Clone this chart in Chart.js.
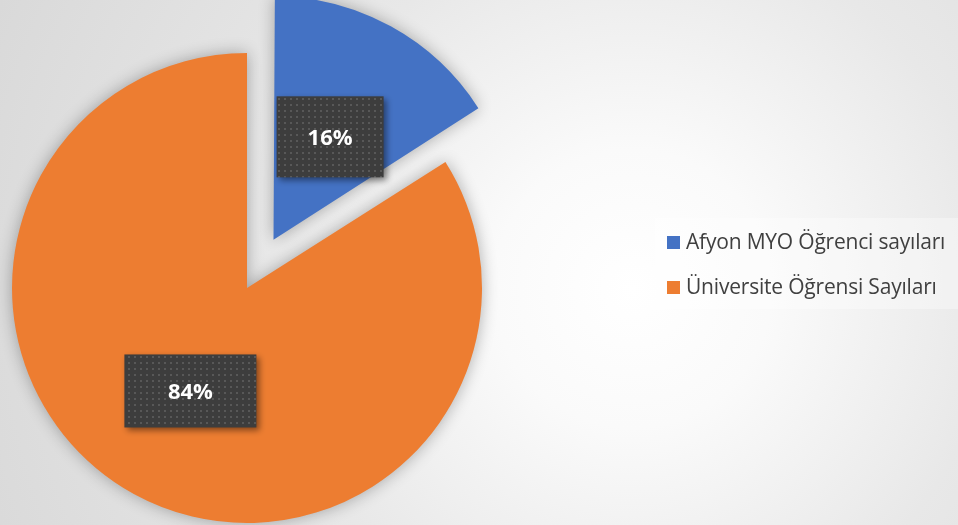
<!DOCTYPE html>
<html>
<head>
<meta charset="utf-8">
<script src="https://cdn.jsdelivr.net/npm/chart.js@4/dist/chart.umd.min.js"></script>
<style>
  html, body { margin: 0; padding: 0; }
  body {
    width: 958px; height: 525px; overflow: hidden; position: relative;
    background: radial-gradient(circle at 66% 55%, #ffffff 0%, #fafafa 20%, #e8e8e8 52%, #d9d9d9 100%);
  }
  #wrap { position: absolute; left: 0; top: 0; width: 958px; height: 525px; }
  #legend {
    position: absolute; left: 655px; top: 218px; width: 303px; height: 91px;
    background: rgba(255,255,255,0.35);
    font-family: "Open Sans", "Noto Sans", sans-serif; font-size: 21px; color: #404040;
  }
  .item { position: absolute; left: 12px; height: 24px; line-height: 24px; white-space: nowrap; letter-spacing: -0.2px; }
  .item span.box { display: inline-block; width: 13px; height: 13px; margin-right: 6px; vertical-align: 0px; }
</style>
</head>
<body>
<div id="wrap"><canvas id="pieChart" width="958" height="525"></canvas></div>
<div id="legend"></div>
<script>
// -------------------------
// Data
// -------------------------
const categories = ['Afyon MYO Öğrenci sayıları', 'Üniversite Öğrensi Sayıları'];
const shares = [16, 84];
const sliceColors = ['#4472C4', '#ED7D31'];

// -------------------------
// Legend (html, built from the arrays)
// -------------------------
const legend = document.getElementById('legend');
categories.forEach((name, i) => {
    const div = document.createElement('div');
    div.className = 'item';
    div.style.top = (11 + i * 45) + 'px';
    div.innerHTML = '<span class="box" style="background:' + sliceColors[i] + '"></span>' + name;
    legend.appendChild(div);
});

// dotted fill for the label boxes
function dotPattern(ctx) {
    const c = document.createElement('canvas');
    c.width = 6; c.height = 6;
    const p = c.getContext('2d');
    p.fillStyle = '#3d3d3d';
    p.fillRect(0, 0, 6, 6);
    p.fillStyle = '#585858';
    p.fillRect(2, 2, 2, 2);
    return ctx.createPattern(c, 'repeat');
}

// -------------------------
// Plugins: pie shadow + boxed percent labels
// -------------------------
const pieShadow = {
    id: 'pieShadow',
    beforeDatasetsDraw(chart) {
        const ctx = chart.ctx;
        ctx.save();
        ctx.shadowColor = 'rgba(0,0,0,0.30)';
        ctx.shadowBlur = 16;
    },
    afterDatasetsDraw(chart) {
        chart.ctx.restore();
    }
};

const boxLabels = {
    id: 'boxLabels',
    afterDraw(chart, args, opts) {
        const ctx = chart.ctx;
        const meta = chart.getDatasetMeta(0);
        const data = chart.data.datasets[0].data;
        const total = data.reduce((a, b) => a + b, 0);
        const fill = dotPattern(ctx);
        meta.data.forEach((arc, i) => {
            const mid = (arc.startAngle + arc.endAngle) / 2;
            const shift = (arc.options.offset || 0) / 4;
            const dist = shift + arc.outerRadius / 2;
            const cx = arc.x + Math.cos(mid) * dist;
            const cy = arc.y + Math.sin(mid) * dist;
            const [w, h] = opts.sizes[i];
            ctx.save();
            ctx.shadowColor = 'rgba(0,0,0,0.45)';
            ctx.shadowBlur = 6;
            ctx.shadowOffsetX = 3;
            ctx.shadowOffsetY = 3;
            ctx.fillStyle = fill;
            ctx.fillRect(cx - w / 2, cy - h / 2, w, h);
            ctx.restore();
            ctx.fillStyle = '#ffffff';
            ctx.font = 'bold 22px "Open Sans", "Noto Sans", sans-serif';
            ctx.textAlign = 'center';
            ctx.textBaseline = 'middle';
            ctx.fillText(Math.round(data[i] / total * 100) + '%', cx, cy + 2);
        });
    }
};

// -------------------------
// Chart
// -------------------------
const pieCtx = document.getElementById('pieChart').getContext('2d');
const pieChart = new Chart(pieCtx, {
    type: 'pie',
    data: {
        labels: categories,
        datasets: [{
            data: shares,
            backgroundColor: sliceColors,
            borderWidth: 0,
            offset: [220, 0]
        }]
    },
    options: {
        responsive: false,
        animation: false,
        radius: 235,
        layout: { padding: { left: 0, right: 464, top: 51, bottom: 0 } },
        plugins: {
            legend: { display: false },
            tooltip: { enabled: false },
            boxLabels: { sizes: [[107, 81], [132, 73]] }
        }
    },
    plugins: [pieShadow, boxLabels]
});
</script>
</body>
</html>
